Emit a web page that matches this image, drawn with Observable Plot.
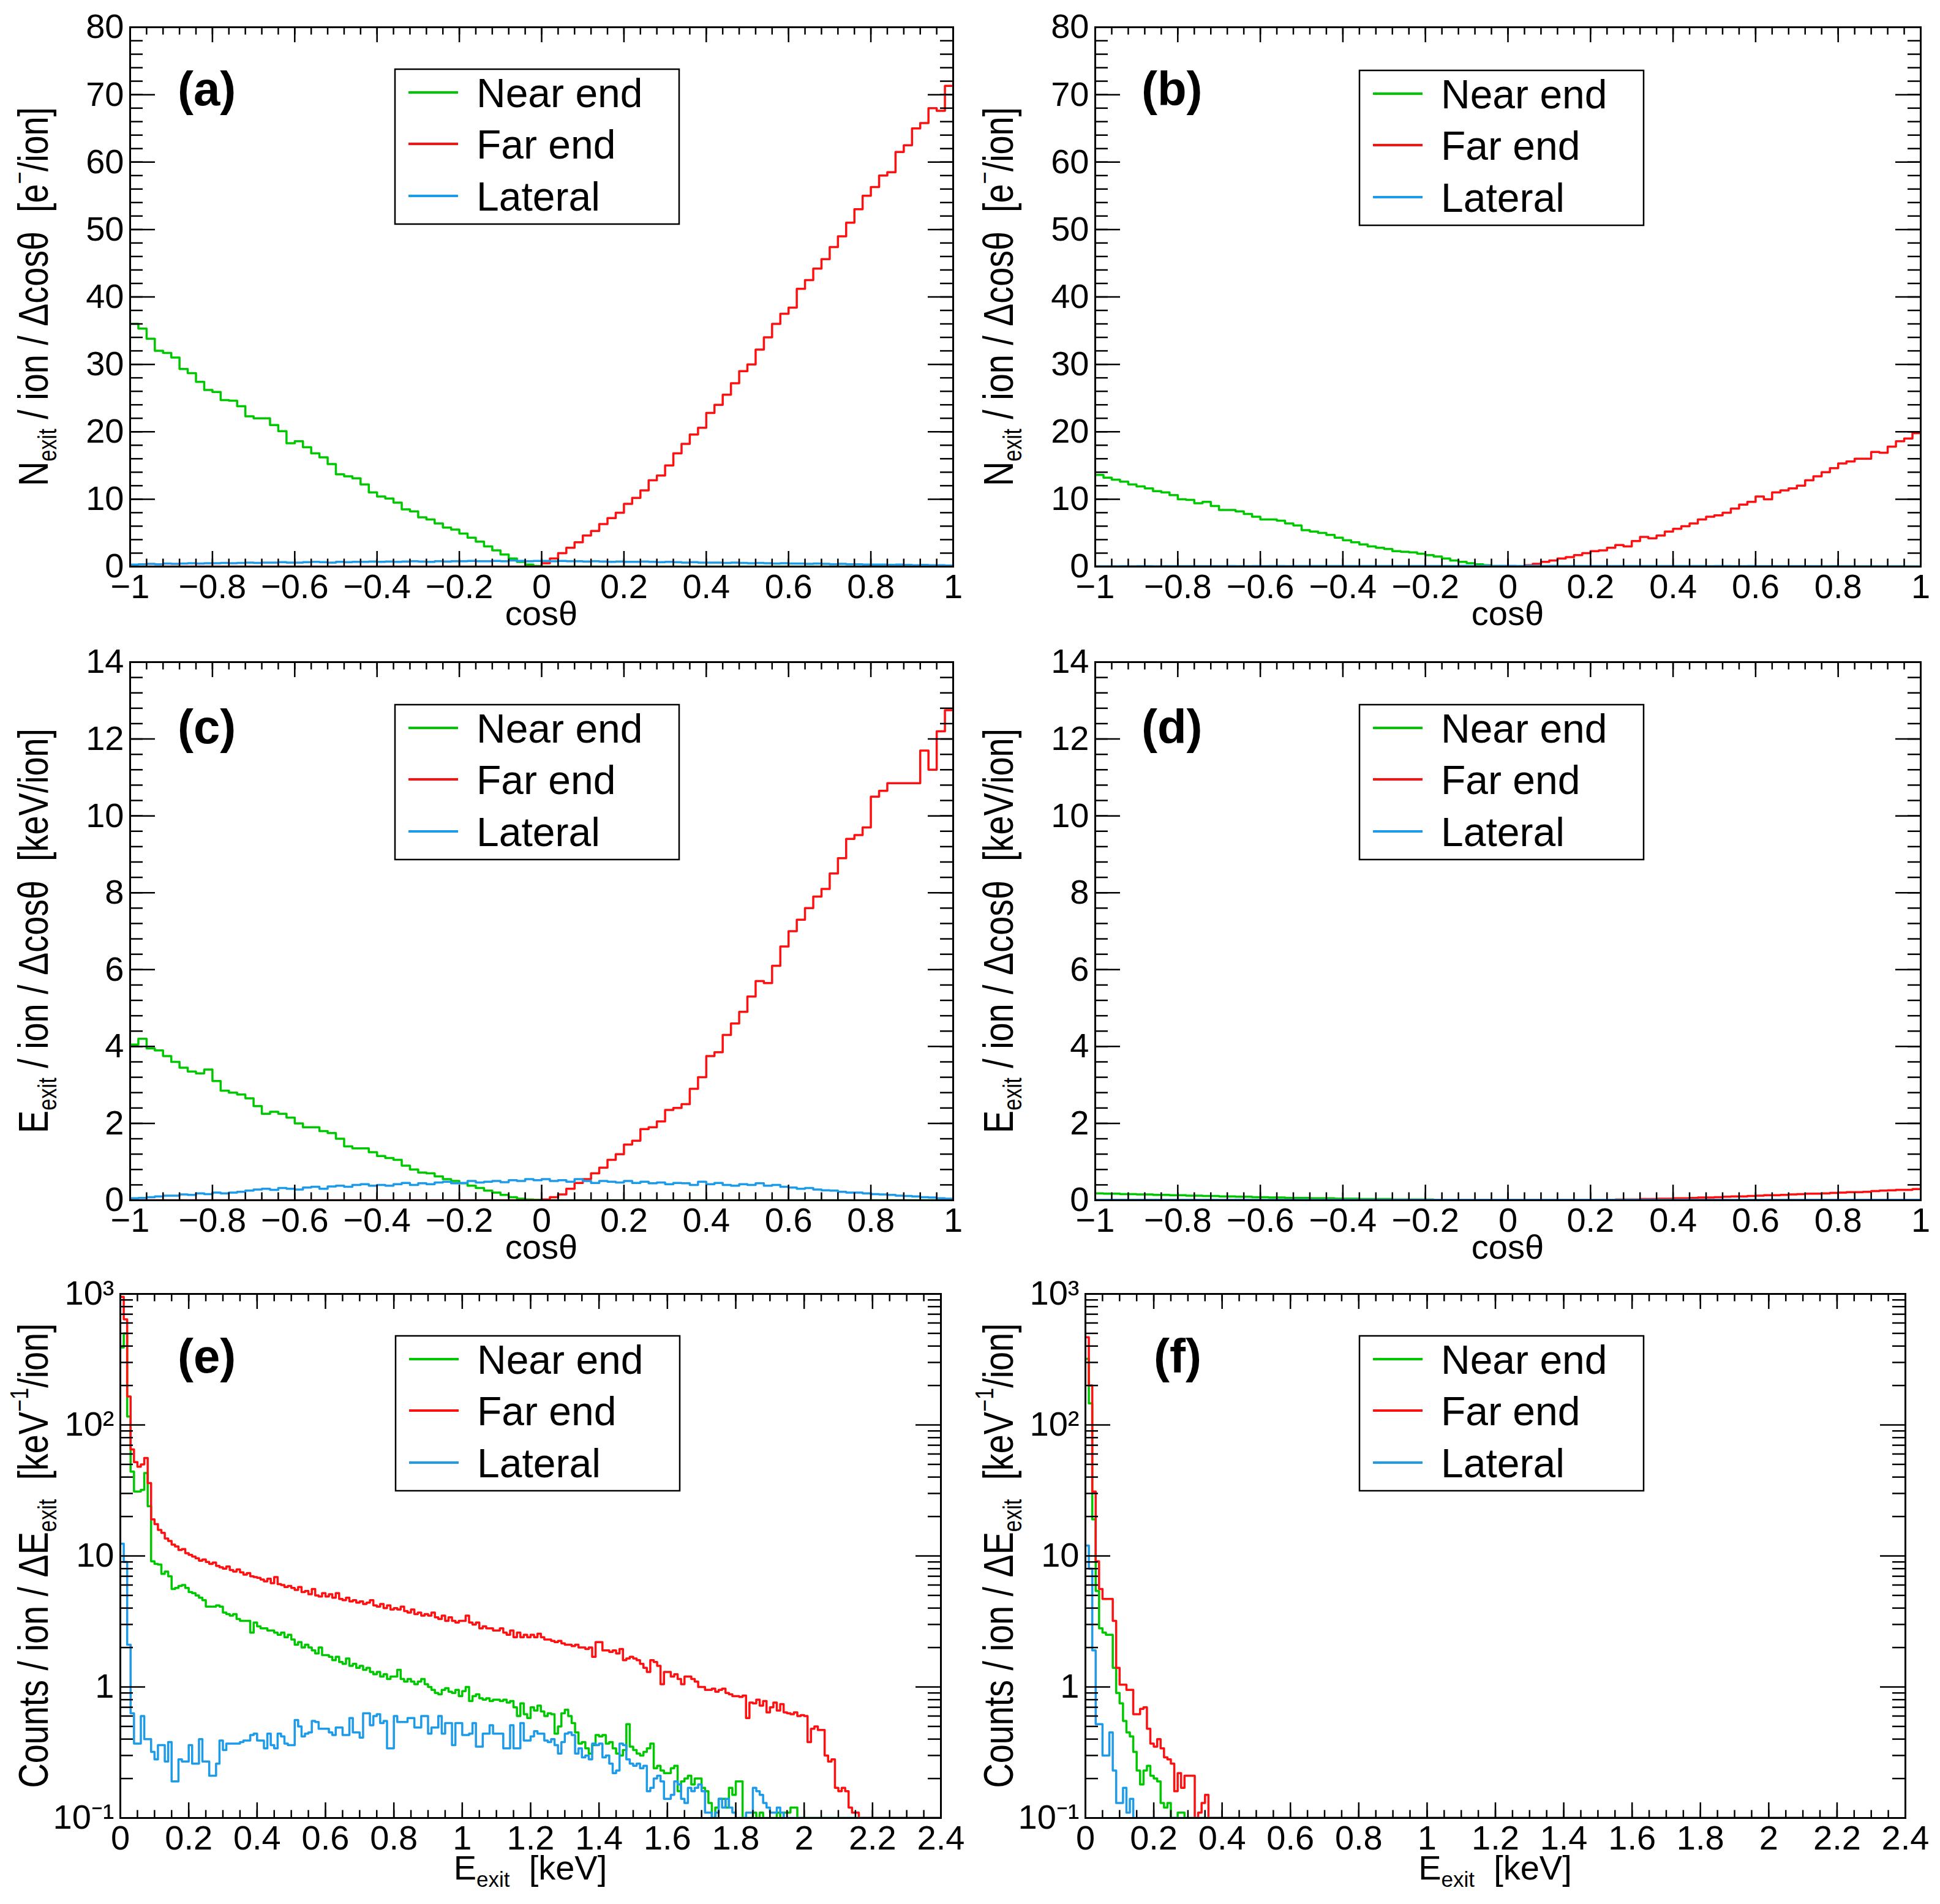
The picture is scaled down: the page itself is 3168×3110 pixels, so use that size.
<!DOCTYPE html>
<html><head><meta charset="utf-8">
<script src="https://cdn.jsdelivr.net/npm/d3@7"></script>
<script src="https://cdn.jsdelivr.net/npm/@observablehq/plot@0.6"></script>
<style>
body{margin:0;background:#fff;}
#page{position:relative;width:3168px;height:3110px;background:#fff;overflow:hidden;}
#page svg{position:absolute;}
</style></head><body><div id="page"></div>
<script>
// ---------------- DATA ----------------
const seriesNames = ["Near end", "Far end", "Lateral"];
const panelLabels = ["(a)", "(b)", "(c)", "(d)", "(e)", "(f)"];
const cosTicks = [-1, -0.8, -0.6, -0.4, -0.2, 0, 0.2, 0.4, 0.6, 0.8, 1];
const nExitTicks = [0, 10, 20, 30, 40, 50, 60, 70, 80];
const eExitTicks = [0, 2, 4, 6, 8, 10, 12, 14];
const energyTicks = [0, 0.2, 0.4, 0.6, 0.8, 1, 1.2, 1.4, 1.6, 1.8, 2, 2.2, 2.4];
const countTicks = [0.1, 1, 10, 100, 1000];
const countTickLabels = ["10\u207B\u00B9", "1", "10", "10\u00B2", "10\u00B3"];
const cosBinLow = -1, cosBinWidth = 0.02;      // 100 bins in cos(theta)
const energyBinLow = 0, energyBinWidth = 0.01; // 240 bins in E_exit [keV]

// (a) N_exit per ion per dcos(theta)
const aNear = [36.0,35.3,33.8,32.0,31.7,31.0,29.3,28.7,27.4,26.2,
25.9,24.7,24.6,23.8,22.3,22.0,22.0,21.0,20.1,18.3,
18.6,17.7,16.8,16.2,15.2,13.7,13.4,13.1,12.2,11.0,
10.4,10.1,9.5,8.5,8.2,7.3,7.0,6.4,5.8,5.5,
4.9,4.3,3.7,3.0,2.4,1.8,1.2,0.7,0.3,0.1,
0,0,0,0,0,0,0,0,0,0, 0,0,0,0,0,0,0,0,0,0, 0,0,0,0,0,0,0,0,0,0, 0,0,0,0,0,0,0,0,0,0, 0,0,0,0,0,0,0,0,0,0];
const aFar = [0,0,0,0,0,0,0,0,0,0, 0,0,0,0,0,0,0,0,0,0, 0,0,0,0,0,0,0,0,0,0, 0,0,0,0,0,0,0,0,0,0, 0,0,0,0,0,0,0,0,0,0,
0.5,1.2,2.0,2.8,3.6,4.6,5.3,6.3,7.2,8.0,
9.3,10.2,11.3,12.8,13.5,15.0,16.8,18.2,19.6,20.6,
22.8,24.0,25.5,27.2,29.0,30.0,32.2,34.0,36.0,37.5,
38.4,41.2,42.5,44.2,45.6,47.4,49.0,51.0,53.0,55.0,
56.3,58.0,58.5,61.5,62.5,65.0,65.8,68.0,67.6,71.3];
const aLat = [0.3,0.35,0.4,0.35,0.45,0.4,0.45,0.5,0.45,0.5,
0.5,0.55,0.5,0.55,0.6,0.55,0.6,0.6,0.65,0.6,
0.6,0.65,0.7,0.65,0.6,0.7,0.65,0.7,0.7,0.75,
0.7,0.75,0.7,0.75,0.8,0.75,0.7,0.8,0.75,0.8,
0.8,0.85,0.8,0.8,0.85,0.8,0.9,0.85,0.8,0.85,
0.85,0.8,0.85,0.8,0.8,0.75,0.8,0.75,0.7,0.75,
0.7,0.7,0.75,0.7,0.65,0.7,0.65,0.6,0.65,0.6,
0.6,0.6,0.55,0.6,0.55,0.5,0.55,0.5,0.45,0.5,
0.45,0.45,0.4,0.45,0.4,0.35,0.4,0.35,0.35,0.3,
0.3,0.3,0.25,0.3,0.25,0.2,0.25,0.2,0.2,0.15];

// (b)
const bNear = [13.6,13.2,12.9,12.6,12.2,11.9,11.6,11.2,11.0,10.6,
10.0,9.9,9.4,9.6,9.0,8.4,8.4,8.2,7.8,7.4,
7.0,7.0,6.8,6.4,6.1,5.4,5.2,5.0,4.7,4.3,
3.9,3.6,3.3,3.0,2.8,2.6,2.3,2.2,2.1,1.9,
1.7,1.5,1.2,0.9,0.7,0.5,0.35,0.2,0.1,0.05,
0,0,0,0,0,0,0,0,0,0, 0,0,0,0,0,0,0,0,0,0, 0,0,0,0,0,0,0,0,0,0, 0,0,0,0,0,0,0,0,0,0, 0,0,0,0,0,0,0,0,0,0];
const bFar = [0,0,0,0,0,0,0,0,0,0, 0,0,0,0,0,0,0,0,0,0, 0,0,0,0,0,0,0,0,0,0, 0,0,0,0,0,0,0,0,0,0, 0,0,0,0,0,0,0,0,0,0,
0.0,0.0,0.2,0.4,0.7,0.9,1.2,1.4,1.7,2.0,
2.3,2.4,2.8,3.2,3.0,3.8,4.4,4.2,4.6,5.2,
5.6,6.0,6.4,7.0,7.4,7.6,8.0,8.6,9.2,9.6,
10.4,10.0,11.0,11.3,11.6,12.0,12.8,13.4,14.0,14.6,
15.3,15.6,16.0,16.0,17.0,16.9,17.8,18.6,19.0,19.8];
const bLat = [0.04,0.05,0.05,0.06,0.05,0.06,0.06,0.05,0.07,0.06,
0.06,0.07,0.06,0.07,0.07,0.06,0.08,0.07,0.07,0.08,
0.07,0.08,0.08,0.07,0.08,0.09,0.08,0.08,0.09,0.08,
0.09,0.09,0.08,0.09,0.1,0.09,0.09,0.1,0.09,0.1,
0.1,0.1,0.09,0.1,0.11,0.1,0.1,0.11,0.1,0.11,
0.11,0.1,0.11,0.1,0.1,0.11,0.1,0.1,0.09,0.1,
0.1,0.09,0.1,0.09,0.09,0.1,0.09,0.08,0.09,0.09,
0.08,0.09,0.08,0.08,0.07,0.08,0.08,0.07,0.07,0.08,
0.07,0.07,0.06,0.07,0.06,0.06,0.07,0.06,0.05,0.06,
0.05,0.05,0.05,0.04,0.05,0.04,0.04,0.04,0.03,0.03];

// (c) E_exit per ion per dcos(theta)
const cNear = [4.05,4.2,3.95,3.9,3.75,3.6,3.45,3.35,3.3,3.4,
3.1,2.85,2.8,2.75,2.65,2.45,2.25,2.3,2.25,2.15,
2.0,1.9,1.9,1.8,1.75,1.6,1.4,1.35,1.35,1.25,
1.15,1.1,1.05,0.9,0.8,0.72,0.7,0.62,0.55,0.5,
0.44,0.38,0.32,0.25,0.2,0.14,0.08,0.04,0.02,0.01,
0,0,0,0,0,0,0,0,0,0, 0,0,0,0,0,0,0,0,0,0, 0,0,0,0,0,0,0,0,0,0, 0,0,0,0,0,0,0,0,0,0, 0,0,0,0,0,0,0,0,0,0];
const cFar = [0,0,0,0,0,0,0,0,0,0, 0,0,0,0,0,0,0,0,0,0, 0,0,0,0,0,0,0,0,0,0, 0,0,0,0,0,0,0,0,0,0, 0,0,0,0,0,0,0,0,0,0,
0.02,0.08,0.15,0.3,0.45,0.55,0.7,0.85,1.05,1.2,
1.45,1.55,1.85,1.9,2.05,2.35,2.4,2.5,2.9,3.2,
3.75,3.85,4.3,4.6,4.9,5.3,5.7,5.65,6.1,6.6,
7.0,7.3,7.6,7.9,8.1,8.5,8.9,9.4,9.5,9.7,
10.5,10.65,10.85,10.85,10.85,10.85,11.7,11.2,12.2,12.75];
const cLat = [0.05,0.06,0.08,0.1,0.12,0.12,0.15,0.14,0.18,0.16,
0.2,0.18,0.2,0.22,0.25,0.28,0.3,0.27,0.32,0.3,
0.28,0.33,0.35,0.3,0.36,0.38,0.35,0.4,0.42,0.38,
0.4,0.38,0.42,0.45,0.4,0.44,0.42,0.46,0.48,0.44,
0.45,0.5,0.46,0.48,0.5,0.47,0.52,0.5,0.55,0.52,
0.55,0.5,0.52,0.48,0.55,0.5,0.45,0.5,0.48,0.46,
0.5,0.45,0.48,0.44,0.46,0.42,0.45,0.44,0.4,0.48,
0.42,0.45,0.4,0.38,0.42,0.4,0.44,0.38,0.4,0.35,
0.33,0.3,0.32,0.28,0.26,0.25,0.22,0.2,0.2,0.18,
0.16,0.15,0.14,0.12,0.11,0.1,0.08,0.07,0.05,0.04];

// (d)
const dNear = [0.18,0.17,0.17,0.16,0.16,0.15,0.15,0.14,0.14,0.13,
0.13,0.12,0.12,0.11,0.11,0.1,0.1,0.09,0.09,0.08,
0.08,0.07,0.07,0.06,0.06,0.06,0.05,0.05,0.05,0.04,
0.04,0.04,0.03,0.03,0.03,0.03,0.02,0.02,0.02,0.02,
0.02,0.01,0.01,0.01,0.01,0.01,0.01,0,0,0,
0,0,0,0,0,0,0,0,0,0, 0,0,0,0,0,0,0,0,0,0, 0,0,0,0,0,0,0,0,0,0, 0,0,0,0,0,0,0,0,0,0, 0,0,0,0,0,0,0,0,0,0];
const dFar = [0,0,0,0,0,0,0,0,0,0, 0,0,0,0,0,0,0,0,0,0, 0,0,0,0,0,0,0,0,0,0, 0,0,0,0,0,0,0,0,0,0, 0,0,0,0,0,0,0,0,0,0,
0,0,0,0,0,0,0,0,0,0,
0.01,0.01,0.01,0.02,0.02,0.02,0.03,0.03,0.04,0.04,
0.05,0.05,0.06,0.07,0.07,0.08,0.09,0.1,0.1,0.11,
0.12,0.13,0.13,0.14,0.15,0.16,0.17,0.17,0.18,0.19,
0.2,0.21,0.21,0.22,0.24,0.25,0.26,0.27,0.27,0.29];
const dLat = [0.01,0.01,0.01,0.01,0.01,0.01,0.01,0.01,0.01,0.01,
0.01,0.01,0.01,0.01,0.01,0.01,0.01,0.01,0.01,0.01,
0.01,0.01,0.01,0.01,0.01,0.01,0.01,0.01,0.01,0.01,
0.01,0.01,0.01,0.01,0.01,0.01,0.01,0.01,0.01,0.01,
0.01,0.01,0.01,0.01,0.01,0.01,0.01,0.01,0.01,0.01,
0.01,0.01,0.01,0.01,0.01,0.01,0.01,0.01,0.01,0.01,
0.01,0.01,0.01,0.01,0.01,0.01,0.01,0.01,0.01,0.01,
0.01,0.01,0.01,0.01,0.01,0.01,0.01,0.01,0.01,0.01,
0.01,0.01,0.01,0.01,0.01,0.01,0.01,0.01,0.01,0.01,
0.01,0.01,0.01,0.01,0.01,0.01,0.01,0.01,0.01,0.01];

// (e) Counts per ion per dE_exit (0.01 keV bins)
const eNear = [390,500,116,44,31,31,32,43,24,9.1,
8.7,8.6,7.3,7.6,7.0,5.6,5.7,5.9,6.0,5.7,
5.3,5.2,5.0,4.8,4.6,4.1,4.1,4.1,4.2,4.1,
3.7,3.6,3.5,3.6,3.3,3.2,3.2,3.2,2.6,3.1,
2.9,2.8,2.8,2.7,2.7,2.6,2.5,2.6,2.4,2.5,
2.3,2.1,2.2,2.0,2.1,2.0,1.9,1.8,2.0,1.75,
1.75,1.7,1.6,1.7,1.55,1.5,1.65,1.45,1.5,1.4,
1.45,1.35,1.4,1.3,1.25,1.3,1.2,1.25,1.15,1.2,
1.2,1.35,1.15,1.1,1.15,1.1,1.05,1.1,1.15,1.05,
1.0,0.95,0.9,0.88,0.95,0.98,0.92,0.9,0.95,0.85,
0.93,1.0,0.78,0.85,0.88,0.82,0.8,0.82,0.78,0.8,
0.8,0.78,0.8,0.76,0.78,0.7,0.6,0.75,0.62,0.58,
0.7,0.66,0.72,0.65,0.6,0.63,0.62,0.44,0.5,0.63,
0.67,0.6,0.53,0.45,0.37,0.38,0.34,0.31,0.36,0.43,
0.42,0.43,0.37,0.38,0.34,0.31,0.3,0.33,0.52,0.35,
0.33,0.31,0.3,0.32,0.34,0.37,0.24,0.25,0.23,0.22,
0.22,0.24,0.25,0.16,0.19,0.2,0.21,0.18,0.2,0.2,
0.17,0.16,0.13,0.1,0.12,0.14,0.14,0.12,0.17,0.15,
0.19,0.19,0.1,0,0.1,0.11,0.1,0.11,0.1,0,
0,0,0.11,0,0.11,0.11,0.12,0.12,0,0,
0,0,0,0,0,0,0,0,0,0, 0,0,0,0,0,0,0,0,0,0,
0,0,0,0,0,0,0,0,0,0, 0,0,0,0,0,0,0,0,0,0];
const eFar = [950,640,165,65,52,48,50,56,36,19,
17.5,15.8,15.0,13.6,13.0,12.2,11.8,11.1,11.3,10.5,
10.2,9.9,9.6,9.2,9.4,9.0,8.7,8.9,8.4,8.2,
8.0,8.3,7.8,7.6,7.9,7.5,7.2,7.4,7.0,6.9,
6.8,6.6,6.4,6.7,6.2,6.9,6.1,6.0,5.8,5.9,
5.7,5.5,5.8,5.3,5.4,5.1,5.6,5.0,4.9,5.2,
4.9,5.1,4.8,5.2,4.7,4.6,4.8,4.5,4.6,4.4,
4.5,4.3,4.4,4.6,4.2,4.1,4.3,4.0,4.2,3.9,
4.0,3.9,4.1,3.8,3.7,3.9,3.6,3.7,3.5,3.6,
3.5,3.7,3.4,3.3,3.5,3.2,3.4,3.2,3.1,3.2,
3.2,3.5,3.1,3.0,3.1,2.8,2.9,2.8,2.8,2.7,
2.7,2.8,2.6,2.5,2.7,2.4,2.6,2.4,2.5,2.4,
2.5,2.4,2.55,2.4,2.3,2.3,2.25,2.2,2.25,2.15,
2.1,2.1,2.05,2.1,2.0,2.0,1.95,2.0,1.7,2.2,
2.2,1.9,1.9,1.85,1.9,1.8,1.95,1.6,1.65,1.7,
1.65,1.6,1.5,1.4,1.3,1.6,1.55,1.45,1.05,1.3,
1.3,1.2,1.25,1.15,1.05,1.2,1.2,1.15,1.1,1.0,
1.0,0.95,0.95,0.97,0.92,0.95,0.97,0.9,0.88,0.85,
0.85,0.84,0.86,0.58,0.76,0.75,0.8,0.72,0.78,0.64,
0.7,0.76,0.66,0.74,0.64,0.63,0.62,0.64,0.6,0.61,
0.6,0.38,0.48,0.5,0.47,0.47,0.3,0.27,0.28,0.17,
0.16,0.17,0.16,0.12,0.11,0.11,0,0,0,0,
0,0,0,0,0,0,0,0,0,0, 0,0,0,0,0,0,0,0,0,0];
const eLat = [12.4,9.0,2.1,0.63,0.37,0.37,0.6,0.4,0.4,0.32,
0.28,0.36,0.36,0.27,0.38,0.19,0.19,0.28,0.27,0.27,
0.36,0.26,0.26,0.4,0.27,0.27,0.21,0.21,0.26,0.39,
0.33,0.37,0.37,0.37,0.37,0.38,0.39,0.39,0.43,0.44,
0.39,0.39,0.34,0.44,0.36,0.34,0.44,0.42,0.37,0.36,
0.36,0.56,0.5,0.42,0.44,0.45,0.55,0.54,0.48,0.48,
0.48,0.45,0.43,0.49,0.49,0.43,0.43,0.58,0.45,0.45,
0.41,0.63,0.63,0.51,0.6,0.62,0.53,0.55,0.34,0.34,
0.6,0.54,0.54,0.54,0.58,0.58,0.49,0.49,0.6,0.6,
0.44,0.49,0.49,0.6,0.44,0.53,0.53,0.36,0.53,0.53,
0.43,0.43,0.44,0.53,0.35,0.35,0.44,0.44,0.51,0.44,
0.44,0.44,0.34,0.34,0.51,0.34,0.34,0.53,0.39,0.39,
0.42,0.46,0.44,0.44,0.39,0.38,0.4,0.36,0.31,0.38,
0.44,0.45,0.43,0.31,0.34,0.29,0.3,0.28,0.37,0.36,
0.37,0.29,0.3,0.26,0.22,0.23,0.37,0.36,0.28,0.26,
0.25,0.26,0.24,0.25,0.16,0.17,0.2,0.21,0.19,0.14,
0.14,0.15,0.19,0.18,0.14,0.13,0.17,0.16,0.17,0.18,
0.16,0.11,0.11,0.1,0.11,0.14,0.12,0.14,0.12,0.11,
0.1,0,0.1,0.11,0.11,0.17,0.16,0.15,0.13,0.12,
0.11,0.11,0.12,0.11,0,0.1,0,0,0,0,
0,0,0,0,0,0,0,0,0,0, 0,0,0,0,0,0,0,0,0,0,
0,0,0,0,0,0,0,0,0,0, 0,0,0,0,0,0,0,0,0,0];

// (f)
const fNear = [320,146,19,5.4,2.8,2.6,2.5,2.5,1.4,0.9,
0.75,0.55,0.45,0.42,0.32,0.23,0.18,0.23,0.25,0.21,
0.2,0.19,0.13,0.12,0.13,0,0,0.11,0.11,0,
0,0,0,0,0,0,0,0,0,0, 0,0,0,0,0,0,0,0,0,0, 0,0,0,0,0,0,0,0,0,0,
0,0,0,0,0,0,0,0,0,0, 0,0,0,0,0,0,0,0,0,0, 0,0,0,0,0,0,0,0,0,0, 0,0,0,0,0,0,0,0,0,0,
0,0,0,0,0,0,0,0,0,0, 0,0,0,0,0,0,0,0,0,0, 0,0,0,0,0,0,0,0,0,0, 0,0,0,0,0,0,0,0,0,0,
0,0,0,0,0,0,0,0,0,0, 0,0,0,0,0,0,0,0,0,0, 0,0,0,0,0,0,0,0,0,0, 0,0,0,0,0,0,0,0,0,0,
0,0,0,0,0,0,0,0,0,0, 0,0,0,0,0,0,0,0,0,0, 0,0,0,0,0,0,0,0,0,0, 0,0,0,0,0,0,0,0,0,0];
const fFar = [467,200,31,9.1,5.6,4.7,4.7,4.7,3.2,1.4,
1.04,1.04,0.95,0.95,0.62,0.62,0.68,0.7,0.48,0.37,
0.35,0.4,0.34,0.29,0.28,0.26,0.16,0.22,0.17,0.21,
0.21,0.21,0,0.11,0.13,0.15,0,0,0,0,
0,0,0,0,0,0,0,0,0,0, 0,0,0,0,0,0,0,0,0,0,
0,0,0,0,0,0,0,0,0,0, 0,0,0,0,0,0,0,0,0,0, 0,0,0,0,0,0,0,0,0,0, 0,0,0,0,0,0,0,0,0,0,
0,0,0,0,0,0,0,0,0,0, 0,0,0,0,0,0,0,0,0,0, 0,0,0,0,0,0,0,0,0,0, 0,0,0,0,0,0,0,0,0,0,
0,0,0,0,0,0,0,0,0,0, 0,0,0,0,0,0,0,0,0,0, 0,0,0,0,0,0,0,0,0,0, 0,0,0,0,0,0,0,0,0,0,
0,0,0,0,0,0,0,0,0,0, 0,0,0,0,0,0,0,0,0,0, 0,0,0,0,0,0,0,0,0,0, 0,0,0,0,0,0,0,0,0,0];
const fLat = [12,8,1.9,0.52,0.52,0.3,0.3,0.45,0.23,0.13,
0.13,0.17,0.11,0.14,0,0,0,0,0,0,
0,0,0,0,0,0,0,0,0,0, 0,0,0,0,0,0,0,0,0,0,
0,0,0,0,0,0,0,0,0,0, 0,0,0,0,0,0,0,0,0,0,
0,0,0,0,0,0,0,0,0,0, 0,0,0,0,0,0,0,0,0,0, 0,0,0,0,0,0,0,0,0,0, 0,0,0,0,0,0,0,0,0,0,
0,0,0,0,0,0,0,0,0,0, 0,0,0,0,0,0,0,0,0,0, 0,0,0,0,0,0,0,0,0,0, 0,0,0,0,0,0,0,0,0,0,
0,0,0,0,0,0,0,0,0,0, 0,0,0,0,0,0,0,0,0,0, 0,0,0,0,0,0,0,0,0,0, 0,0,0,0,0,0,0,0,0,0,
0,0,0,0,0,0,0,0,0,0, 0,0,0,0,0,0,0,0,0,0, 0,0,0,0,0,0,0,0,0,0, 0,0,0,0,0,0,0,0,0,0];

// ---------------- STYLE / LAYOUT ----------------
const FONT = '"Liberation Sans", Arial, Helvetica, sans-serif';
const seriesColors = ["#00c800", "#ff1010", "#1e9be8"];
const MAJ_X = 25, MIN_X = 12.5;   // ticks on the horizontal axes
const MAJ_Y = 41, MIN_Y = 21;     // ticks on the vertical axes
const TICKFS = 56;

function hist(lo, width, values, floor) {
  const pts = values.map((v, i) => ({x: lo + i * width, y: floor == null ? v : Math.max(v, floor)}));
  pts.push({x: lo + values.length * width, y: pts[pts.length - 1].y});
  return pts;
}
const fmtSigned = d => d < 0 ? "\u2212" + (-d) : String(d);
const rnd = v => Math.round(v * 1000) / 1000;
const cosMinor = d3.range(0, 51).map(i => rnd(-1 + i * 0.04));
const energyMinor = d3.range(0, 49).map(i => rnd(i * 0.05));
const nMinor = d3.range(0, 41).map(i => i * 2);
const eMinor = d3.range(0, 36).map(i => rnd(i * 0.4));
const logMinor = [0.1, 1, 10, 100].flatMap(dec => [2,3,4,5,6,7,8,9].map(k => rnd(k * dec)));

const yTitleN = [{t: "N"}, {t: "exit", sub: true}, {t: " / ion / \u0394cos\u03B8  [e"}, {t: "\u2212", sup: true}, {t: "/ion]"}];
const yTitleE = [{t: "E"}, {t: "exit", sub: true}, {t: " / ion / \u0394cos\u03B8  [keV/ion]"}];
const yTitleC = [{t: "Counts / ion / \u0394E"}, {t: "exit", sub: true}, {t: "  [keV"}, {t: "\u22121", sup: true}, {t: "/ion]"}];
const xTitleCos = [{t: "cos\u03B8"}];
const xTitleE = [{t: "E"}, {t: "exit", sub: true}, {t: "  [keV]"}];

const cosPanel = {lo: cosBinLow, width: cosBinWidth, xDomain: [-1, 1], xMajor: cosTicks, xMinor: cosMinor, xFmt: fmtSigned, yType: "linear", xTitle: xTitleCos, xTitleDy: 96};
const enPanel = {lo: energyBinLow, width: energyBinWidth, xDomain: [0, 2.4], xMajor: energyTicks, xMinor: energyMinor, xFmt: d => String(d), yType: "log",
  yDomain: [0.1, 1000], yMajor: countTicks, yMinor: logMinor, yFmt: d => countTickLabels[countTicks.indexOf(d)], yTitle: yTitleC, xTitle: xTitleE, xTitleDy: 101};

const panels = [
  {...cosPanel, box: [0, 0, 1584, 1040], frame: [212, 1556, 44, 925], yDomain: [0, 80], yMajor: nExitTicks, yMinor: nMinor, yFmt: String, yTitle: yTitleN, yTitleX: 78, series: [aNear, aFar, aLat], label: [290, 172], legend: [645, 113]},
  {...cosPanel, box: [1584, 0, 1584, 1040], frame: [1788, 3136, 44, 925], yDomain: [0, 80], yMajor: nExitTicks, yMinor: nMinor, yFmt: String, yTitle: yTitleN, yTitleX: 1654, series: [bNear, bFar, bLat], label: [1864, 172], legend: [2220, 115]},
  {...cosPanel, box: [0, 1040, 1584, 1040], frame: [212, 1556, 1081, 1960], yDomain: [0, 14], yMajor: eExitTicks, yMinor: eMinor, yFmt: String, yTitle: yTitleE, yTitleX: 78, series: [cNear, cFar, cLat], label: [290, 1214], legend: [645, 1151]},
  {...cosPanel, box: [1584, 1040, 1584, 1040], frame: [1788, 3136, 1081, 1960], yDomain: [0, 14], yMajor: eExitTicks, yMinor: eMinor, yFmt: String, yTitle: yTitleE, yTitleX: 1654, series: [dNear, dFar, dLat], label: [1864, 1214], legend: [2220, 1151]},
  {...enPanel, box: [0, 2080, 1584, 1030], frame: [196, 1536, 2113, 2969], yTitleX: 78, series: [eNear, eFar, eLat], label: [290, 2242], legend: [646, 2182]},
  {...enPanel, box: [1584, 2080, 1584, 1030], frame: [1772, 3111, 2113, 2969], yTitleX: 1654, series: [fNear, fFar, fLat], label: [1884, 2242], legend: [2220, 2182]}
];

function richText(g, parts, size) {
  const t = g.append("text").style("font-size", size + "px").style("white-space", "pre").attr("fill", "black");
  parts.forEach(p => {
    const ts = t.append("tspan").text(p.t);
    if (p.sub) ts.style("font-size", Math.round(size * 0.62) + "px").attr("baseline-shift", "-0.35em");
    if (p.sup) ts.style("font-size", Math.round(size * 0.62) + "px").attr("baseline-shift", "0.75em");
  });
  return t;
}

const page = document.getElementById("page");
panels.forEach((p, idx) => {
  const [bx, by, bw, bh] = p.box;
  const [fl, fr, ft, fb] = p.frame;
  const innerW = fr - fl, innerH = fb - ft;
  const floor = p.yType === "log" ? p.yDomain[0] : null;
  const tk = {stroke: "black", strokeWidth: 2.5};
  const marks = [
    ...p.series.map((vals, i) => Plot.line(hist(p.lo, p.width, vals, floor), {x: "x", y: "y", stroke: seriesColors[i], strokeWidth: 3.5, curve: "step-after", clip: true})),
    Plot.ruleX(p.xMajor, {x: d => d, insetTop: innerH - MAJ_X, ...tk}),
    Plot.ruleX(p.xMajor, {x: d => d, insetBottom: innerH - MAJ_X, ...tk}),
    Plot.ruleX(p.xMinor, {x: d => d, insetTop: innerH - MIN_X, ...tk}),
    Plot.ruleX(p.xMinor, {x: d => d, insetBottom: innerH - MIN_X, ...tk}),
    Plot.ruleY(p.yMajor, {y: d => d, insetRight: innerW - MAJ_Y, ...tk}),
    Plot.ruleY(p.yMajor, {y: d => d, insetLeft: innerW - MAJ_Y, ...tk}),
    Plot.ruleY(p.yMinor, {y: d => d, insetRight: innerW - MIN_Y, ...tk}),
    Plot.ruleY(p.yMinor, {y: d => d, insetLeft: innerW - MIN_Y, ...tk}),
    Plot.frame({stroke: "black", strokeWidth: 3}),
    Plot.axisX(p.xMajor, {tickSize: 0, tickPadding: 12, tickFormat: p.xFmt, fontSize: TICKFS, label: null}),
    Plot.axisY(p.yMajor, {tickSize: 0, tickPadding: 10, tickFormat: p.yFmt, fontSize: TICKFS, label: null})
  ];
  const svg = Plot.plot({
    width: bw, height: bh,
    marginLeft: fl - bx, marginRight: bx + bw - fr, marginTop: ft - by, marginBottom: by + bh - fb,
    x: {domain: p.xDomain, type: "linear"},
    y: {domain: p.yDomain, type: p.yType},
    style: {fontFamily: FONT, background: "transparent", color: "black", overflow: "visible"},
    marks
  });
  svg.style.left = bx + "px";
  svg.style.top = by + "px";
  svg.style.maxWidth = "none";
  page.appendChild(svg);

  const g = d3.select(svg).append("g").attr("transform", `translate(${-bx},${-by})`).style("font-family", FONT);
  // panel label
  g.append("text").attr("x", p.label[0]).attr("y", p.label[1]).attr("text-anchor", "start")
    .style("font-size", "78px").style("font-weight", "bold").text(panelLabels[idx]);
  // legend
  const [lx, ly] = p.legend;
  g.append("rect").attr("x", lx).attr("y", ly).attr("width", 464).attr("height", 253).attr("fill", "white").attr("stroke", "black").attr("stroke-width", 2.5);
  [38, 122, 207].forEach((dy, i) => {
    g.append("line").attr("x1", lx + 22).attr("x2", lx + 103).attr("y1", ly + dy).attr("y2", ly + dy).attr("stroke", seriesColors[i]).attr("stroke-width", 4);
    g.append("text").attr("x", lx + 133).attr("y", ly + dy + 24).attr("text-anchor", "start").style("font-size", "66px").text(seriesNames[i]);
  });
  // y title (rotated, centred on the frame, glyphs narrowed as in the reference)
  richText(g, p.yTitle, 68).attr("text-anchor", "middle")
    .attr("transform", `translate(${p.yTitleX},${(ft + fb) / 2}) rotate(-90) scale(0.82,1)`);
  // x title
  richText(g, p.xTitle, 56).attr("text-anchor", "middle").attr("x", (fl + fr) / 2).attr("y", fb + p.xTitleDy);
});
</script></body></html>
